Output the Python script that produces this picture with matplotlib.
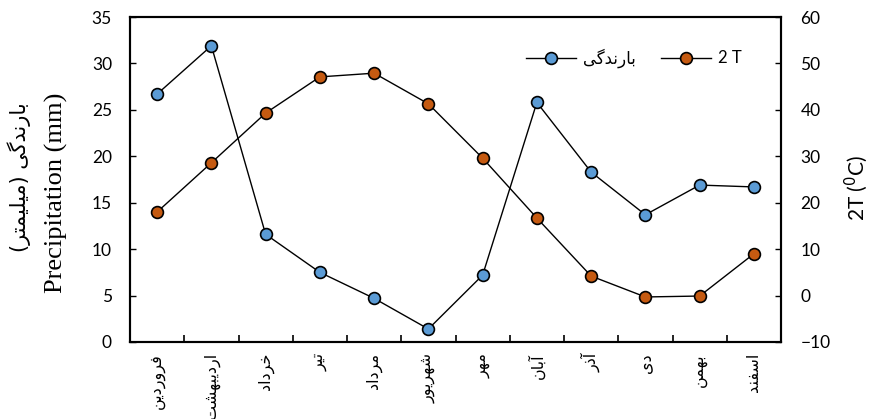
import matplotlib
matplotlib.use("Agg")
import matplotlib.pyplot as plt
import numpy as np

# Persian month names and data
months = ["فروردین", "اردیبهشت", "خرداد", "تیر", "مرداد", "شهریور",
          "مهر", "آبان", "آذر", "دی", "بهمن", "اسفند"]
precip = [26.7, 31.9, 11.6, 7.5, 4.7, 1.4, 7.2, 25.8, 18.3, 13.7, 16.9, 16.7]
temp2 = [18.0, 28.6, 39.3, 47.1, 47.9, 41.3, 29.6, 16.7, 4.2, -0.3, -0.1, 9.0]

precip_name = "بارندگی"
precip_unit = "(میلیمتر)"

# simple Arabic/Persian shaping (matplotlib has no shaping engine)
# letter: (isolated, final, initial, medial); right-joining letters have only two forms
FORMS = {
    "ا": (0xFE8D, 0xFE8E), "آ": (0xFE81, 0xFE82),
    "د": (0xFEA9, 0xFEAA), "ذ": (0xFEAB, 0xFEAC),
    "ر": (0xFEAD, 0xFEAE), "ز": (0xFEAF, 0xFEB0),
    "و": (0xFEED, 0xFEEE),
    "ب": (0xFE8F, 0xFE90, 0xFE91, 0xFE92), "ت": (0xFE95, 0xFE96, 0xFE97, 0xFE98),
    "خ": (0xFEA5, 0xFEA6, 0xFEA7, 0xFEA8), "س": (0xFEB1, 0xFEB2, 0xFEB3, 0xFEB4),
    "ش": (0xFEB5, 0xFEB6, 0xFEB7, 0xFEB8), "ف": (0xFED1, 0xFED2, 0xFED3, 0xFED4),
    "ل": (0xFEDD, 0xFEDE, 0xFEDF, 0xFEE0), "م": (0xFEE1, 0xFEE2, 0xFEE3, 0xFEE4),
    "ن": (0xFEE5, 0xFEE6, 0xFEE7, 0xFEE8), "ه": (0xFEE9, 0xFEEA, 0xFEEB, 0xFEEC),
    "ی": (0xFBFC, 0xFBFD, 0xFBFE, 0xFBFF), "گ": (0xFB92, 0xFB93, 0xFB94, 0xFB95),
}


def shape(word):
    out = []
    for i, ch in enumerate(word):
        if ch not in FORMS:
            out.append(ch)
            continue
        prev = word[i - 1] if i > 0 else None
        nxt = word[i + 1] if i + 1 < len(word) else None
        join_prev = prev in FORMS and len(FORMS[prev]) == 4
        join_next = nxt in FORMS and len(FORMS[ch]) == 4
        f = FORMS[ch]
        if join_prev and join_next:
            c = f[3]
        elif join_prev:
            c = f[1]
        elif join_next:
            c = f[2]
        else:
            c = f[0]
        out.append(chr(c))
    return out


def rtl(text):
    # shape each word, then reverse for visual left-to-right drawing
    mirror = {"(": ")", ")": "("}
    chars = []
    for w in text.split(" "):
        chars.append(shape(w))
    res = []
    for w in reversed(chars):
        res.append("".join(mirror.get(c, c) for c in reversed(w)))
    return " ".join(res)


tick_font = "Lato"
ar_font = ["DejaVu Sans"]

fig = plt.figure(figsize=(8.7, 4.19), dpi=100)
ax = fig.add_axes([130 / 870, 1 - 342 / 419, 651 / 870, 325 / 419])
ax2 = ax.twinx()

x = np.arange(len(months))
l1, = ax.plot(x, precip, color="black", lw=1, marker="o", ms=8.5,
              markerfacecolor="#5B9BD5", markeredgecolor="black", mew=1.2,
              label=rtl(precip_name))
l2, = ax2.plot(x, temp2, color="black", lw=1, marker="o", ms=8.5,
               markerfacecolor="#C55A11", markeredgecolor="black", mew=1.2,
               label="2 T")

ax.set_xlim(-0.5, len(months) - 0.5)
ax.set_ylim(0, 35)
ax2.set_ylim(-10, 60)
ax.set_yticks(np.arange(0, 36, 5))
ax2.set_yticks(np.arange(-10, 61, 10))

# ticks between categories, labels under categories
ax.set_xticks(np.arange(0.5, len(months) - 0.5, 1))
ax.set_xticklabels([])
ax.set_xticks(x, minor=True)
ax.set_xticklabels([rtl(m) for m in months], minor=True, rotation=90,
                   family=ar_font, fontsize=11.5)
ax.tick_params(axis="x", which="major", direction="in", length=5, width=1.2)
ax.tick_params(axis="x", which="minor", length=0, pad=8)
ax.tick_params(axis="y", direction="in", length=4, width=1, labelsize=12.5, pad=13)
ax2.tick_params(axis="y", direction="in", length=4, width=1, labelsize=12.5, pad=14)
for lab in ax.get_yticklabels() + ax2.get_yticklabels():
    lab.set_family(tick_font)

for a in (ax, ax2):
    for s in a.spines.values():
        s.set_linewidth(1.5)
        s.set_color("black")

fig.text(19 / 870, 1 - 177 / 419, rtl(precip_name + " " + precip_unit), rotation=90,
         ha="center", va="center", family=ar_font, fontsize=15)
fig.text(56 / 870, 1 - 193 / 419, "Precipitation (mm)", rotation=90, ha="center",
         va="center", family="Liberation Serif", fontsize=19)
fig.text(856 / 870, 1 - 188 / 419, "2T ($^{0}$C)", rotation=90, ha="center", va="center",
         family=tick_font, fontsize=15)

leg = ax.legend(handles=[l1, l2], loc="center", bbox_to_anchor=(0.774, 0.874),
                ncol=2, frameon=False, fontsize=12, handlelength=3.0,
                columnspacing=1.5, handletextpad=0.45)
leg.get_texts()[0].set_family(ar_font)
leg.get_texts()[1].set_family(tick_font)

fig.savefig("out.png", dpi=100)
